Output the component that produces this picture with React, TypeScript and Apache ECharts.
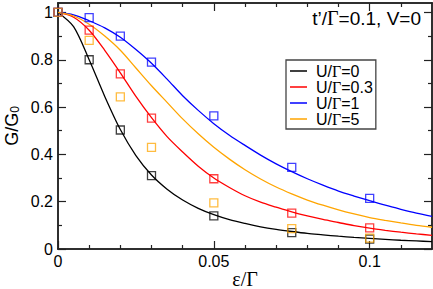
import React, { useEffect, useRef } from "react";
import * as echarts from "echarts";

// Curve abscissa (ε/Γ), step 0.005
const eps = [0, 0.005, 0.01, 0.015, 0.02, 0.025, 0.03, 0.035, 0.04, 0.045, 0.05, 0.055, 0.06, 0.065, 0.07, 0.075, 0.08, 0.085, 0.09, 0.095, 0.1, 0.105, 0.11, 0.115, 0.12];
// Curves G/G0
const curveU0 = [1, 0.94, 0.8, 0.645, 0.505, 0.395, 0.313, 0.253, 0.207, 0.172, 0.145, 0.124, 0.108, 0.094, 0.083, 0.074, 0.066, 0.06, 0.054, 0.049, 0.045, 0.041, 0.037, 0.034, 0.031];
const curveU03 = [1, 0.98, 0.925, 0.84, 0.745, 0.645, 0.555, 0.475, 0.41, 0.35, 0.3, 0.26, 0.225, 0.198, 0.177, 0.157, 0.14, 0.125, 0.112, 0.099, 0.088, 0.079, 0.071, 0.064, 0.058];
const curveU1 = [1, 0.99, 0.965, 0.935, 0.895, 0.843, 0.785, 0.718, 0.648, 0.586, 0.53, 0.481, 0.438, 0.397, 0.36, 0.327, 0.297, 0.27, 0.245, 0.224, 0.204, 0.185, 0.168, 0.152, 0.138];
const curveU5 = [1, 0.985, 0.95, 0.9, 0.84, 0.765, 0.69, 0.62, 0.55, 0.487, 0.43, 0.38, 0.335, 0.296, 0.262, 0.233, 0.207, 0.185, 0.165, 0.148, 0.133, 0.121, 0.11, 0.1, 0.092];

// Square markers
const epsPts = [0, 0.01, 0.02, 0.03, 0.05, 0.075, 0.1];
const ptsU0 = [1, 0.8, 0.503, 0.31, 0.14, 0.069, 0.042];
const ptsU03 = [1, 0.925, 0.74, 0.553, 0.297, 0.152, 0.089];
const ptsU1 = [1, 0.978, 0.9, 0.79, 0.563, 0.345, 0.214];
const ptsU5 = [1, 0.882, 0.643, 0.43, 0.195, 0.086, 0.046];

const seriesNames = ["U/Γ=0", "U/Γ=0.3", "U/Γ=1", "U/Γ=5"];
const seriesColors = ["#000000", "#ff0000", "#0000ff", "#ffa500"];

const xMajor = [0, 0.05, 0.1];
const xMinor = [0.01, 0.02, 0.03, 0.04, 0.06, 0.07, 0.08, 0.09, 0.11];
const yMajor = [0, 0.2, 0.4, 0.6, 0.8, 1];
const yMinor = [0.1, 0.3, 0.5, 0.7, 0.9];

const X_MAX = 0.12;
const Y_MAX = 1.04;
const annotation = "t’/{g|Γ}=0.1, V=0";

export default function App() {
  const ref = useRef<HTMLDivElement>(null);
  useEffect(() => {
    document.body.style.margin = "0";
    const chart = echarts.init(ref.current!, null, { renderer: "svg" });
    const axisColor = "#222";
    const lineStyle = { color: axisColor, width: 1.5 };
    const font = "Liberation Sans";

    const mkX = (position: string, values: number[], len: number, labels: boolean, extra: any = {}) => ({
      type: "value",
      min: 0,
      max: X_MAX,
      position,
      axisLine: { show: true, onZero: false, lineStyle },
      axisTick: { show: true, inside: true, length: len, customValues: values, lineStyle: { color: axisColor, width: 1.2 } },
      axisLabel: labels
        ? { show: true, customValues: values, fontSize: 16, fontFamily: font, color: "#000", margin: 4 }
        : { show: false },
      splitLine: { show: false },
      ...extra,
    });
    const mkY = (position: string, values: number[], len: number, labels: boolean, extra: any = {}) => ({
      type: "value",
      min: 0,
      max: Y_MAX,
      position,
      axisLine: { show: true, onZero: false, lineStyle },
      axisTick: { show: true, inside: true, length: len, customValues: values, lineStyle: { color: axisColor, width: 1.2 } },
      axisLabel: labels
        ? { show: true, customValues: values, fontSize: 16, fontFamily: font, color: "#000", margin: 5 }
        : { show: false },
      splitLine: { show: false },
      ...extra,
    });

    const curves = [curveU0, curveU03, curveU1, curveU5];
    const pts = [ptsU0, ptsU03, ptsU1, ptsU5];

    const lineSeries = curves.map((c, i) => ({
      name: seriesNames[i],
      type: "line",
      xAxisIndex: 0,
      yAxisIndex: 0,
      data: eps.map((e, j) => [e, c[j]]),
      smooth: 0.3,
      showSymbol: false,
      symbol: "none",
      lineStyle: { color: seriesColors[i], width: 1.3 },
      itemStyle: { color: seriesColors[i] },
      z: 3,
    }));
    const scatterSeries = pts.map((p, i) => ({
      name: seriesNames[i] + " pts",
      type: "scatter",
      xAxisIndex: 0,
      yAxisIndex: 0,
      data: epsPts.map((e, j) => [e, p[j]]),
      symbol: "rect",
      symbolSize: 8,
      itemStyle: { color: "rgba(255,255,255,0)", borderColor: seriesColors[i], borderWidth: 1.3, opacity: 0.75 },
      z: 4,
    }));

    chart.setOption({
      animation: false,
      grid: { left: 58, right: 1, top: 3, bottom: 40, containLabel: false, outerBoundsMode: "none" },
      xAxis: [
        mkX("bottom", xMajor, 8, true, {
          name: "ε/Γ",
          nameLocation: "middle",
          nameGap: 20,
          nameMoveOverlap: false,
          nameTextStyle: { fontFamily: "Liberation Serif", fontSize: 20, color: "#000" },
        }),
        mkX("bottom", xMinor, 4, false),
        mkX("top", xMajor, 8, false),
        mkX("top", xMinor, 4, false),
      ],
      yAxis: [
        mkY("left", yMajor, 8, true, {
          name: "{a|G/G}{b|0}",
          nameLocation: "middle",
          nameGap: 37,
          nameMoveOverlap: false,
          nameRotate: 90,
          nameTextStyle: {
            color: "#000",
            rich: {
              a: { fontFamily: font, fontSize: 18, color: "#000" },
              b: { fontFamily: font, fontSize: 12, color: "#000", padding: [7, 0, 0, 0] },
            },
          },
        }),
        mkY("left", yMinor, 4, false),
        mkY("right", yMajor, 8, false),
        mkY("right", yMinor, 4, false),
      ],
      legend: {
        data: seriesNames,
        orient: "vertical",
        left: 286,
        top: 60,
        icon: "rect",
        itemWidth: 17,
        itemHeight: 1.5,
        itemGap: 0,
        padding: [3, 3, 2, 4],
        borderColor: "#444",
        borderWidth: 1.3,
        backgroundColor: "#fff",
        formatter: (name: string) => name.replace("Γ", "{g|Γ}"),
        textStyle: {
          fontSize: 16,
          fontFamily: font,
          color: "#000",
          lineHeight: 16,
          padding: [0, 0, 0, 4],
          rich: { g: { fontFamily: "Liberation Serif", fontSize: 16, lineHeight: 16, color: "#000" } },
        },
      },
      graphic: [
        {
          type: "text",
          right: 12,
          top: 8,
          style: {
            text: annotation,
            fontFamily: font,
            fontSize: 19,
            fill: "#000",
            rich: { g: { fontFamily: "Liberation Serif", fontSize: 20, fill: "#000" } },
          },
        },
      ],
      series: [...lineSeries, ...scatterSeries],
    });
    return () => chart.dispose();
  }, []);
  return <div ref={ref} style={{ width: 433, height: 289, position: "absolute", left: 0, top: 0 }} />;
}
